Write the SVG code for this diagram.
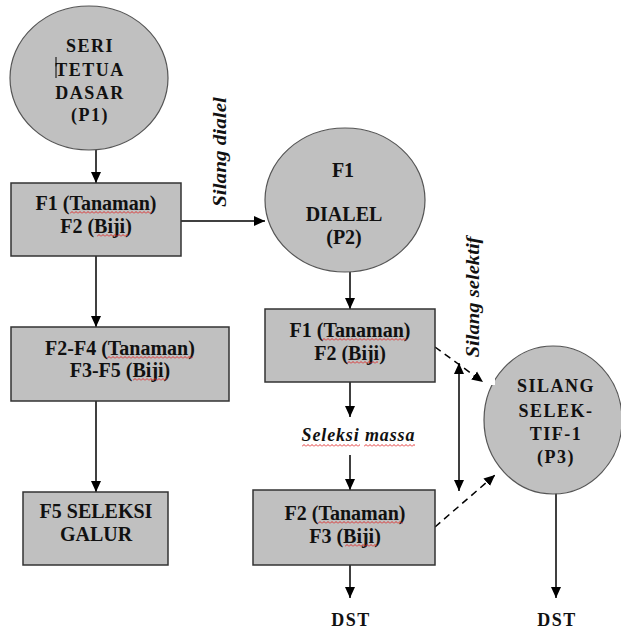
<svg xmlns="http://www.w3.org/2000/svg" width="621" height="630" viewBox="0 0 621 630">
<style>
.node{fill:#c0c0c0;stroke:#333;stroke-width:1.5}
.circ{fill:#c0c0c0;stroke:#555;stroke-width:1.2}
.t{font-family:'Liberation Serif','DejaVu Serif',serif;font-weight:700;font-size:20px;fill:#111;text-anchor:middle}
.ts{font-family:'Liberation Serif','DejaVu Serif',serif;font-weight:700;font-size:18px;fill:#111;text-anchor:middle;letter-spacing:1.5px}
.lbl{font-family:'Liberation Serif','DejaVu Serif',serif;font-weight:700;font-style:italic;font-size:18px;fill:#111;text-anchor:middle}
.ln{stroke:#000;stroke-width:1.5;fill:none}
.dash{stroke:#000;stroke-width:1.5;fill:none;stroke-dasharray:7 5}
</style>
<defs>
<marker id="ah" markerUnits="userSpaceOnUse" markerWidth="12" markerHeight="12" viewBox="0 0 12 12" refX="11" refY="6" orient="auto">
<path d="M0,1 L11,6 L0,11 Z" fill="#000"/>
</marker>
<marker id="ahs" markerUnits="userSpaceOnUse" markerWidth="12" markerHeight="12" viewBox="0 0 12 12" refX="1" refY="6" orient="auto">
<path d="M12,1 L1,6 L12,11 Z" fill="#000"/>
</marker>
<pattern id="sq" patternUnits="userSpaceOnUse" width="4" height="3">
<path d="M0,2.5 L2,0.5 L4,2.5" fill="none" stroke="#e02020" stroke-width="0.9"/>
</pattern>
</defs>

<g id="connectors">
<line class="ln" x1="96" y1="150" x2="96" y2="183" marker-end="url(#ah)"/>
<line class="ln" x1="181" y1="221" x2="265" y2="221" marker-end="url(#ah)"/>
<line class="ln" x1="96" y1="256" x2="96" y2="327" marker-end="url(#ah)"/>
<line class="ln" x1="96" y1="401" x2="96" y2="492" marker-end="url(#ah)"/>
<line class="ln" x1="350" y1="272" x2="350" y2="309" marker-end="url(#ah)"/>
<line class="ln" x1="350" y1="382" x2="350" y2="417" marker-end="url(#ah)"/>
<line class="ln" x1="350" y1="455" x2="350" y2="490" marker-end="url(#ah)"/>
<line class="ln" x1="350" y1="565" x2="350" y2="598" marker-end="url(#ah)"/>
<line class="ln" x1="556" y1="493" x2="556" y2="598" marker-end="url(#ah)"/>
<line class="ln" x1="459" y1="363" x2="459" y2="491" marker-start="url(#ahs)" marker-end="url(#ah)"/>
<line class="dash" x1="435" y1="347" x2="483" y2="382" marker-end="url(#ah)"/>
<line class="dash" x1="435" y1="527" x2="495" y2="475" marker-end="url(#ah)"/>
<text class="lbl" transform="translate(226,152) rotate(-90)" textLength="110" lengthAdjust="spacingAndGlyphs">Silang dialel</text>
<text class="lbl" transform="translate(479,297) rotate(-90)" textLength="121" lengthAdjust="spacingAndGlyphs">Silang selektif</text>
<text class="lbl" x="358" y="441" textLength="113" lengthAdjust="spacing" font-size="17">Seleksi massa</text>
<rect transform="translate(302,444)" width="58" height="3" fill="url(#sq)"/>
<rect transform="translate(364,444)" width="51" height="3" fill="url(#sq)"/>
<text class="ts" x="351" y="626">DST</text>
<text class="ts" x="557" y="626">DST</text>
</g>

<g id="p1">
<ellipse class="circ" cx="89" cy="78" rx="79" ry="72"/>
<text class="ts" x="90" y="52">SERI</text>
<text class="ts" x="90" y="76">TETUA</text>
<text class="ts" x="90" y="99">DASAR</text>
<text class="ts" x="90" y="121">(P1)</text>
<line x1="56" y1="57" x2="56" y2="78" stroke="#000" stroke-width="1"/>
</g>

<g id="box1">
<rect class="node" x="11" y="183" width="170" height="73"/>
<text class="t" x="96" y="210">F1 (Tanaman)</text>
<text class="t" x="96" y="233">F2 (Biji)</text>
<rect transform="translate(70,211)" width="82" height="3" fill="url(#sq)"/>
<rect transform="translate(97,234)" width="31" height="3" fill="url(#sq)"/>
</g>

<g id="box2">
<rect class="node" x="11" y="327" width="218" height="74"/>
<text class="t" x="120" y="355">F2-F4 (Tanaman)</text>
<text class="t" x="120" y="377">F3-F5 (Biji)</text>
<rect transform="translate(107,356)" width="86" height="3" fill="url(#sq)"/>
<rect transform="translate(133,378)" width="34" height="3" fill="url(#sq)"/>
</g>

<g id="box3">
<rect class="node" x="23" y="492" width="145" height="73"/>
<text class="t" x="96" y="518">F5 SELEKSI</text>
<text class="t" x="96" y="541">GALUR</text>
</g>

<g id="p2">
<ellipse class="circ" cx="345" cy="200" rx="80" ry="72"/>
<text class="t" x="343" y="177">F1</text>
<text class="t" x="344" y="221">DIALEL</text>
<text class="t" x="344" y="244">(P2)</text>
</g>

<g id="box4">
<rect class="node" x="265" y="309" width="170" height="73"/>
<text class="t" x="350" y="337">F1 (Tanaman)</text>
<text class="t" x="350" y="360">F2 (Biji)</text>
<rect transform="translate(322,338)" width="85" height="3" fill="url(#sq)"/>
<rect transform="translate(347,361)" width="31" height="3" fill="url(#sq)"/>
</g>

<g id="box5">
<rect class="node" x="253" y="490" width="182" height="75"/>
<text class="t" x="345" y="520">F2 (Tanaman)</text>
<text class="t" x="345" y="543">F3 (Biji)</text>
<rect transform="translate(318,521)" width="85" height="3" fill="url(#sq)"/>
<rect transform="translate(345,544)" width="32" height="3" fill="url(#sq)"/>
</g>

<g id="p3">
<ellipse class="circ" cx="553" cy="420" rx="69" ry="74"/>
<rect x="488" y="378" width="7" height="7" fill="#fff"/>
<text class="ts" x="556" y="392">SILANG</text>
<text class="ts" x="556" y="417">SELEK-</text>
<text class="ts" x="556" y="440">TIF-1</text>
<text class="ts" x="556" y="463">(P3)</text>
</g>
</svg>
